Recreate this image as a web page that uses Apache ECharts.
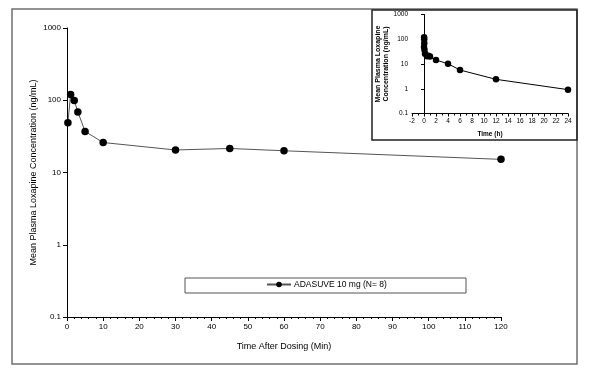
<!DOCTYPE html>
<html>
<head>
<meta charset="utf-8">
<script src="https://cdn.jsdelivr.net/npm/echarts@6/dist/echarts.min.js"></script>
<style>html,body{margin:0;padding:0;background:#fff;}#c{width:597px;height:378px;}</style>
</head>
<body>
<div id="c"></div>
<script>
// Main chart: time in minutes, concentration ng/mL
var mainTime = [0.25, 1, 2, 3, 5, 10, 30, 45, 60, 120];
var mainConc = [49, 120, 99, 69, 37, 26, 20.5, 21.5, 20, 15.2];
// Inset: time in hours
var insetTime = [0.004, 0.017, 0.033, 0.05, 0.083, 0.167, 0.5, 0.75, 1, 2, 4, 6, 12, 24];
var insetConc = [49, 120, 99, 69, 37, 26, 20.5, 21.5, 20, 14.5, 10.2, 5.7, 2.4, 0.92];
var seriesName = 'ADASUVE 10 mg (N= 8)';
var yLabel = 'Mean Plasma Loxapine Concentration (ng/mL)';
var xLabel = 'Time After Dosing (Min)';
var insetYLabel = 'Mean Plasma Loxapine\nConcentration (ng/mL)';
var insetXLabel = 'Time (h)';

var FONT = 'Liberation Sans, Arial, sans-serif';
function fmt(v){ return String(Number(Number(v).toPrecision(6))); }
function pairs(xs, ys){ return xs.map(function(x,i){ return [x, ys[i]]; }); }

var chart = echarts.init(document.getElementById('c'));
chart.setOption({
  animation: false,
  backgroundColor: '#fff',
  textStyle: { fontFamily: FONT },
  graphic: [
    { type: 'rect', z: -1, shape: { x: 12, y: 9, width: 565, height: 355 },
      style: { fill: 'none', stroke: '#6f6f6f', lineWidth: 1.5 } },
    { type: 'rect', z: -1, shape: { x: 372, y: 10, width: 205, height: 130 },
      style: { fill: 'none', stroke: '#222', lineWidth: 1.5 } },
    { type: 'rect', z: -1, shape: { x: 185, y: 278, width: 281, height: 15 },
      style: { fill: 'none', stroke: '#555', lineWidth: 1 } }
  ],
  legend: {
    data: [seriesName],
    left: 266, top: 280,
    itemWidth: 24, itemHeight: 7, itemGap: 0,
    padding: 0,
    textStyle: { fontSize: 8.5, color: '#000', fontFamily: FONT, padding: [0,0,0,-2] }
  },
  grid: [
    { left: 67, top: 28, width: 434, height: 289, containLabel: false },
    { left: 412, top: 14.5, width: 156, height: 99, containLabel: false }
  ],
  xAxis: [
    { gridIndex: 0, type: 'value', min: 0, max: 120, interval: 10,
      name: xLabel, nameLocation: 'middle', nameGap: 25,
      nameTextStyle: { fontSize: 9, color: '#000', fontFamily: FONT },
      axisLine: { lineStyle: { color: '#000', width: 1 } },
      axisTick: { show: true, length: 4, lineStyle: { color: '#000' } },
      minorTick: { show: true, splitNumber: 5, length: 2, lineStyle: { color: '#000' } },
      axisLabel: { fontSize: 8, color: '#000', margin: 6 },
      splitLine: { show: false }
    },
    { gridIndex: 1, type: 'value', min: -2, max: 24, interval: 2,
      name: insetXLabel, nameLocation: 'middle', nameGap: 17,
      nameTextStyle: { fontSize: 6.5, fontWeight: 'bold', color: '#000', fontFamily: FONT },
      axisLine: { lineStyle: { color: '#000', width: 1 } },
      axisTick: { show: true, length: 3, lineStyle: { color: '#000' } },
      minorTick: { show: true, splitNumber: 2, length: 2, lineStyle: { color: '#000' } },
      axisLabel: { fontSize: 6.5, color: '#000', margin: 4 },
      splitLine: { show: false }
    }
  ],
  yAxis: [
    { gridIndex: 0, type: 'log', logBase: 10, min: 0.1, max: 1000,
      name: yLabel, nameLocation: 'middle', nameGap: 29, nameRotate: 90,
      nameMoveOverlap: false,
      nameTextStyle: { fontSize: 9, color: '#000', fontFamily: FONT },
      axisLine: { show: true, lineStyle: { color: '#000', width: 1 } },
      axisTick: { show: true, length: 4, lineStyle: { color: '#000' } },
      axisLabel: { fontSize: 8, color: '#000', margin: 6, formatter: fmt },
      splitLine: { show: false }
    },
    { gridIndex: 1, type: 'log', logBase: 10, min: 0.1, max: 1000,
      name: insetYLabel, nameLocation: 'middle', nameGap: 21, nameRotate: 90,
      nameTextStyle: { fontSize: 7, fontWeight: 'bold', color: '#000', fontFamily: FONT, lineHeight: 8 },
      axisLine: { show: true, lineStyle: { color: '#000', width: 1 } },
      axisTick: { show: true, length: 3, lineStyle: { color: '#000' } },
      axisLabel: { fontSize: 6.5, color: '#000', margin: 4, formatter: fmt },
      splitLine: { show: false }
    }
  ],
  series: [
    { name: seriesName, type: 'line', xAxisIndex: 0, yAxisIndex: 0,
      data: pairs(mainTime, mainConc),
      symbol: 'circle', symbolSize: 7.5,
      itemStyle: { color: '#000' },
      lineStyle: { color: '#555', width: 1 }
    },
    { name: 'inset', type: 'line', xAxisIndex: 1, yAxisIndex: 1,
      data: pairs(insetTime, insetConc),
      symbol: 'circle', symbolSize: 6.5,
      itemStyle: { color: '#000' },
      lineStyle: { color: '#000', width: 1 }
    }
  ]
});
</script>
</body>
</html>
